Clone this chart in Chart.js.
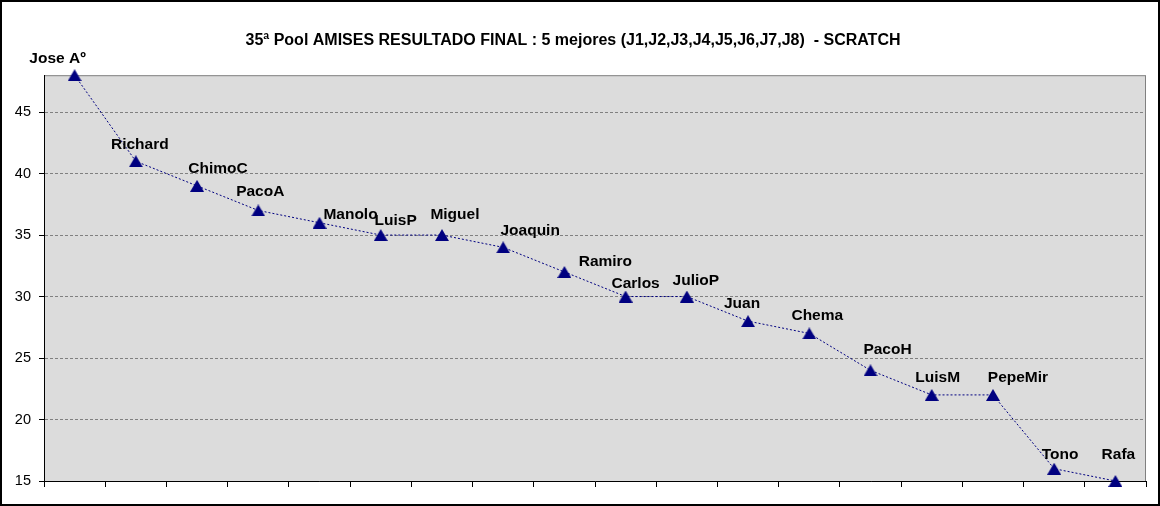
<!DOCTYPE html>
<html>
<head>
<meta charset="utf-8">
<script src="https://cdn.jsdelivr.net/npm/chart.js@4/dist/chart.umd.min.js"></script>
<style>
  body { margin: 0; background: #fff; }
  #wrap { width: 1160px; height: 506px; }
</style>
</head>
<body>
<div id="wrap"><canvas id="poolChart" width="1160" height="506"></canvas></div>
<script>
// player names and final scratch scores
const players = ['Jose Aº', 'Richard', 'ChimoC', 'PacoA', 'Manolo', 'LuisP', 'Miguel', 'Joaquin', 'Ramiro',
  'Carlos', 'JulioP', 'Juan', 'Chema', 'PacoH', 'LuisM', 'PepeMir', 'Tono', 'Rafa'];
const scores = [48, 41, 39, 37, 36, 35, 35, 34, 32, 30, 30, 28, 27, 24, 22, 22, 16, 15];
const yTicks = [15, 20, 25, 30, 35, 40, 45];

// label nudges (px, label centre relative to marker) - moved by hand in the original
const labelDx = [-17, 4, 21, 2, 31, 15, 13, 27, 41, 10, 9, -6, 8, 17, 6, 25, 6, 3];
const labelDy = [-16, -17, -17, -19, -8, -14, -20, -17, -10, -13, -16, -17, -18, -21, -17, -17, -14, -26];

// excel style triangle marker, centred on its box
function makeTriangle() {
  const c = document.createElement('canvas');
  c.width = 14; c.height = 12;
  const g = c.getContext('2d');
  g.fillStyle = '#000080';
  g.beginPath();
  g.moveTo(7, 0);
  g.lineTo(14, 12);
  g.lineTo(0, 12);
  g.closePath();
  g.fill();
  return c;
}
const triangle = makeTriangle();

const plotBackground = {
  id: 'plotBackground',
  beforeDraw(chart) {
    const { ctx, chartArea: a } = chart;
    ctx.save();
    ctx.fillStyle = '#fff';
    ctx.fillRect(0, 0, chart.width, chart.height);
    ctx.fillStyle = '#dcdcdc';
    ctx.fillRect(a.left, a.top, a.right - a.left, a.bottom - a.top);
    ctx.strokeStyle = '#808080';
    ctx.lineWidth = 1;
    ctx.strokeRect(a.left + 0.5, a.top + 0.5, a.right - a.left - 1, a.bottom - a.top);
    ctx.restore();
  },
  afterDraw(chart) {
    const ctx = chart.ctx;
    ctx.save();
    ctx.strokeStyle = '#000';
    ctx.lineWidth = 2;
    ctx.strokeRect(1, 1, chart.width - 2, chart.height - 2);
    ctx.restore();
  }
};

const pointLabels = {
  id: 'pointLabels',
  afterDatasetsDraw(chart) {
    const ctx = chart.ctx;
    const meta = chart.getDatasetMeta(0);
    ctx.save();
    ctx.font = 'bold 15.5px "Liberation Sans", Arial, sans-serif';
    ctx.fillStyle = '#000';
    ctx.textAlign = 'center';
    ctx.textBaseline = 'middle';
    meta.data.forEach((pt, i) => {
      ctx.fillText(players[i], pt.x + labelDx[i], pt.y + labelDy[i]);
    });
    ctx.restore();
  }
};

new Chart(document.getElementById('poolChart'), {
  type: 'line',
  data: {
    labels: players,
    datasets: [{
      data: scores,
      borderColor: '#000080',
      borderWidth: 1,
      borderDash: [2, 2],
      pointStyle: triangle,
      pointRadius: 7,
      tension: 0,
      clip: false
    }]
  },
  options: {
    responsive: false,
    animation: false,
    layout: { padding: { left: 0, right: 14, top: 0, bottom: 0 } },
    plugins: {
      legend: { display: false },
      tooltip: { enabled: false },
      title: {
        display: true,
        text: '35ª Pool AMISES RESULTADO FINAL : 5 mejores (J1,J2,J3,J4,J5,J6,J7,J8)  - SCRATCH',
        color: '#000',
        font: { family: '"Liberation Sans", Arial, sans-serif', size: 16, weight: 'bold' },
        padding: { top: 31, bottom: 25 }
      }
    },
    scales: {
      x: {
        type: 'category',
        offset: true,
        grid: { offset: true, drawOnChartArea: false, drawTicks: true, tickLength: 6, color: '#000' },
        border: { color: '#000', width: 1 },
        ticks: { display: false },
        afterFit(scale) { scale.height = 25; }
      },
      y: {
        min: 15,
        max: 48,
        afterBuildTicks(scale) { scale.ticks = yTicks.map(v => ({ value: v })); },
        grid: { color: '#808080', lineWidth: 1, drawTicks: true, tickLength: 5, tickColor: '#000', tickBorderDash: [] },
        border: { color: '#000', width: 1, dash: [3, 2] },
        ticks: {
          color: '#000',
          padding: 8,
          font: { family: '"Liberation Sans", Arial, sans-serif', size: 14.5 }
        },
        afterFit(scale) { scale.width = 44; }
      }
    }
  },
  plugins: [plotBackground, pointLabels]
});
</script>
</body>
</html>
